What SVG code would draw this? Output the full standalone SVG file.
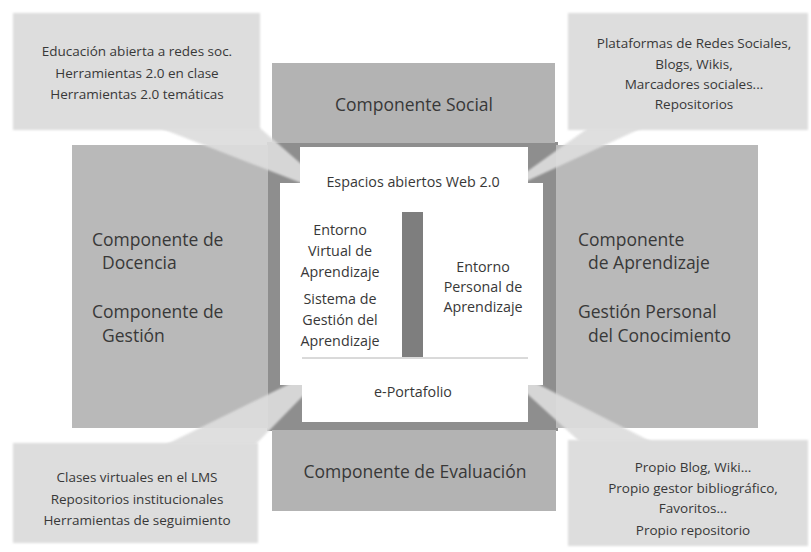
<svg xmlns="http://www.w3.org/2000/svg" width="811" height="552" viewBox="0 0 811 552">
<style>
.t{font-family:"Open Sans","Noto Sans","DejaVu Sans",sans-serif;fill:#383838}
.big{font-size:17.5px}
.sm{font-size:13.5px}
.in{font-size:14.3px}
.c{text-anchor:middle}
.comp{fill:#b9b9b9}
.compv{fill:#b3b3b3}
.call{fill:#dddddd}
</style>
<defs>
<filter id="soft" x="-5%" y="-5%" width="110%" height="110%"><feGaussianBlur stdDeviation="1.2"/></filter>
</defs>
<rect width="811" height="552" fill="#ffffff"/>

<g id="frame">
<rect x="267" y="142" width="291" height="289" fill="#8e8e8e"/>
</g>

<g id="componente-docencia">
<rect class="comp" x="72" y="145" width="196" height="283"/>
<text class="t big" x="92" y="246">Componente de</text>
<text class="t big" x="102" y="269">Docencia</text>
<text class="t big" x="92" y="318">Componente de</text>
<text class="t big" x="102" y="342">Gestión</text>
</g>

<g id="componente-aprendizaje">
<rect class="comp" x="556" y="145" width="202" height="283"/>
<text class="t big" x="578" y="246">Componente</text>
<text class="t big" x="588" y="269">de Aprendizaje</text>
<text class="t big" x="578" y="318">Gestión Personal</text>
<text class="t big" x="588" y="342">del Conocimiento</text>
</g>

<g id="componente-social">
<rect class="compv" x="272" y="63" width="283" height="80"/>
<text class="t big c" x="414" y="111">Componente Social</text>
</g>

<g id="componente-evaluacion">
<rect class="compv" x="272" y="430" width="284" height="81"/>
<text class="t big c" x="415" y="478">Componente de Evaluación</text>
</g>

<g id="connectors" filter="url(#soft)" opacity="0.92">
<polygon class="call" points="160,128 260,128 340,198"/>
<polygon class="call" points="588,128 642,128 490,198"/>
<polygon class="call" points="165,445 255,445 338,360"/>
<polygon class="call" points="490,360 580,442 652,442"/>
</g>

<g id="entorno">
<path d="M300,147 H528 V183 H543 V385 H528 V422 H302 V385 H280 V183 H300 Z" fill="#ffffff"/>
<rect x="402" y="212" width="21" height="145" fill="#7e7e7e"/>
<line x1="302" y1="358" x2="528" y2="358" stroke="#b4b4b4" stroke-width="1"/>
</g>

<g id="espacios-abiertos">
<text class="t in c" x="413" y="187">Espacios abiertos Web 2.0</text>
</g>

<g id="entorno-virtual">
<text class="t in c" x="340" y="235">Entorno</text>
<text class="t in c" x="340" y="256">Virtual de</text>
<text class="t in c" x="340" y="277">Aprendizaje</text>
<text class="t in c" x="340" y="304">Sistema de</text>
<text class="t in c" x="340" y="325">Gestión del</text>
<text class="t in c" x="340" y="346">Aprendizaje</text>
</g>

<g id="entorno-personal">
<text class="t in c" x="483" y="272">Entorno</text>
<text class="t in c" x="483" y="292">Personal de</text>
<text class="t in c" x="483" y="312">Aprendizaje</text>
</g>

<g id="e-portafolio">
<text class="t in c" x="413" y="397">e-Portafolio</text>
</g>

<g id="callout-tl">
<rect class="call" x="13" y="13" width="247" height="117" filter="url(#soft)"/>
<text class="t sm c" x="137" y="56">Educación abierta a redes soc.</text>
<text class="t sm c" x="137" y="78">Herramientas 2.0 en clase</text>
<text class="t sm c" x="137" y="99">Herramientas 2.0 temáticas</text>
</g>

<g id="callout-tr">
<rect class="call" x="568" y="13" width="240" height="117" filter="url(#soft)"/>
<text class="t sm c" x="694" y="48">Plataformas de Redes Sociales,</text>
<text class="t sm c" x="694" y="69">Blogs, Wikis,</text>
<text class="t sm c" x="694" y="89">Marcadores sociales...</text>
<text class="t sm c" x="694" y="109">Repositorios</text>
</g>

<g id="callout-bl">
<rect class="call" x="13" y="443" width="245" height="100" filter="url(#soft)"/>
<text class="t sm c" x="137" y="482">Clases virtuales en el LMS</text>
<text class="t sm c" x="137" y="504">Repositorios institucionales</text>
<text class="t sm c" x="137" y="525">Herramientas de seguimiento</text>
</g>

<g id="callout-br">
<rect class="call" x="568" y="440" width="240" height="106" filter="url(#soft)"/>
<text class="t sm c" x="693" y="472">Propio Blog, Wiki...</text>
<text class="t sm c" x="693" y="493">Propio gestor bibliográfico,</text>
<text class="t sm c" x="693" y="513">Favoritos...</text>
<text class="t sm c" x="693" y="535">Propio repositorio</text>
</g>
</svg>
